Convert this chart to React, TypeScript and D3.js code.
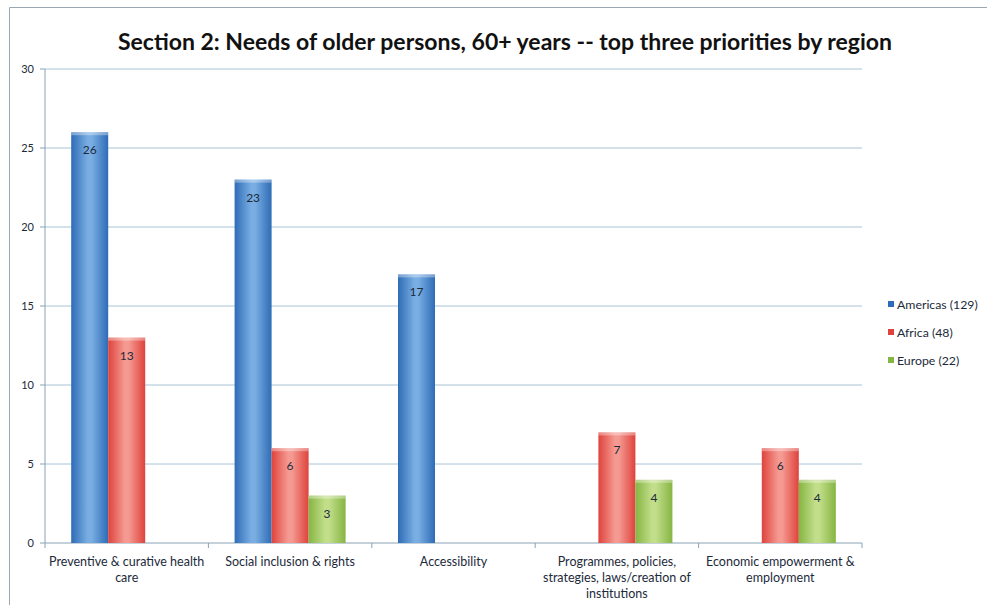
import React from "react";
import * as d3 from "d3";

const categories = [
  "Preventive & curative health care",
  "Social inclusion & rights",
  "Accessibility",
  "Programmes, policies, strategies, laws/creation of institutions",
  "Economic empowerment & employment",
];
const categoryLines = [
  ["Preventive & curative health", "care"],
  ["Social inclusion & rights"],
  ["Accessibility"],
  ["Programmes, policies,", "strategies, laws/creation of", "institutions"],
  ["Economic empowerment &", "employment"],
];
const seriesNames = ["Americas (129)", "Africa (48)", "Europe (22)"];
const americas = [26, 23, 17, 0, 0];
const africa = [13, 6, 0, 7, 6];
const europe = [0, 3, 0, 4, 4];
const yTicks = [0, 5, 10, 15, 20, 25, 30];
const title = "Section 2: Needs of older persons, 60+ years -- top three priorities by region";

const seriesValues = [americas, africa, europe];
const colors = [
  { edge: "#2e6cb6", mid: "#7aaee3", key: "blue" },
  { edge: "#de433c", mid: "#f59a92", key: "red" },
  { edge: "#86b543", mid: "#c2de8a", key: "green" },
];

export default function App() {
  const W = 987, H = 605;
  const left = 45, right = 862, top = 69, bottom = 543;
  const x = d3.scaleBand<number>().domain(d3.range(categories.length)).range([left, right]).paddingInner(0).paddingOuter(0);
  const inner = d3.scaleBand<number>().domain([0, 1, 2]).range([0, x.bandwidth()]).paddingOuter(0.708).paddingInner(0);
  const y = d3.scaleLinear().domain([0, 30]).range([bottom, top]);
  const font = "Lato, 'Open Sans', sans-serif";
  const textColor = "#1c2a3a";

  return (
    <svg width={W} height={H} style={{ position: "absolute", left: 0, top: 0, background: "#fff" }}>
      <defs>
        {colors.map((c) => (
          <linearGradient key={c.key} id={"g" + c.key} x1="0" x2="1" y1="0" y2="0">
            <stop offset="0" stopColor={c.edge} />
            <stop offset="0.45" stopColor={c.mid} />
            <stop offset="0.55" stopColor={c.mid} />
            <stop offset="1" stopColor={c.edge} />
          </linearGradient>
        ))}
      </defs>
      <rect x={0} y={0} width={W} height={H} fill="#fff" />
      {/* frame */}
      <line x1={9.5} x2={W} y1={7.5} y2={7.5} stroke="#9aa6b0" strokeWidth={1} />
      <line x1={9.5} x2={9.5} y1={7.5} y2={H} stroke="#9aa6b0" strokeWidth={1} />

      <text x={505} y={50} textAnchor="middle" fontFamily={font} fontWeight="bold" fontSize={23} fill="#111">
        {title}
      </text>

      {/* gridlines */}
      {yTicks.map((t) => (
        <g key={t}>
          {t > 0 && <line x1={left} x2={right} y1={y(t)} y2={y(t)} stroke="#a9c4d6" strokeWidth={1} />}
          <line x1={left - 5} x2={left} y1={y(t)} y2={y(t)} stroke="#8aa3b5" />
          <text x={34} y={y(t) + 4} textAnchor="end" fontFamily={font} fontSize={11} fill={textColor}>
            {t}
          </text>
        </g>
      ))}
      {/* axes */}
      <line x1={left} x2={left} y1={top} y2={bottom} stroke="#8aa3b5" />
      <line x1={left} x2={right} y1={bottom} y2={bottom} stroke="#8aa3b5" />
      {d3.range(categories.length + 1).map((i) => {
        const xx = i < categories.length ? x(i)! : right;
        return <line key={i} x1={xx} x2={xx} y1={bottom} y2={bottom + 5} stroke="#8aa3b5" />;
      })}

      {/* bars */}
      {categories.map((_, ci) => (
        <g key={ci}>
          {seriesValues.map((vals, si) => {
            const v = vals[ci];
            if (!v) return null;
            const bx = x(ci)! + inner(si)!;
            const bw = inner.bandwidth();
            const by = y(v);
            return (
              <g key={si}>
                <rect x={bx} y={by} width={bw} height={bottom - by} fill={`url(#g${colors[si].key})`} />
                <rect x={bx} y={by} width={bw} height={3} fill="#fff" opacity={0.35} />
                <text x={bx + bw / 2} y={by + 22} textAnchor="middle" fontFamily={font} fontSize={12} fill={textColor}>
                  {v}
                </text>
              </g>
            );
          })}
        </g>
      ))}

      {/* category labels */}
      {categoryLines.map((lines, ci) => (
        <text key={ci} textAnchor="middle" fontFamily={font} fontSize={12.5} fill={textColor}>
          {lines.map((l, li) => (
            <tspan key={li} x={x(ci)! + x.bandwidth() / 2} y={566 + li * 16}>
              {l}
            </tspan>
          ))}
        </text>
      ))}

      {/* legend */}
      {seriesNames.map((n, i) => (
        <g key={n}>
          <rect x={888} y={301 + i * 28} width={6} height={6} fill={colors[i].edge} />
          <text x={897} y={309 + i * 28} fontFamily={font} fontSize={12.3} fill={textColor}>
            {n}
          </text>
        </g>
      ))}
    </svg>
  );
}
